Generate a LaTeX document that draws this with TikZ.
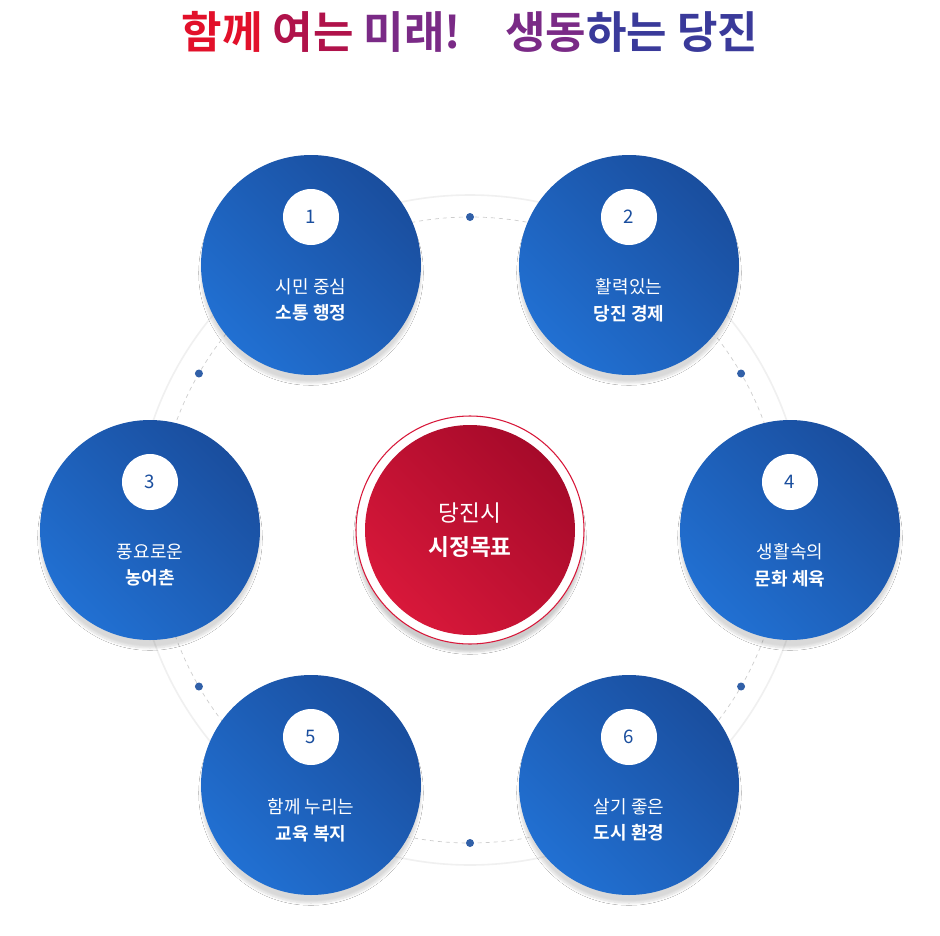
\documentclass[tikz,border=0pt]{standalone}
\usepackage{fontspec}
\newfontfamily\kr{Noto Sans CJK KR}
\newfontfamily\krb{Noto Sans CJK KR Bold}
\usetikzlibrary{shadows.blur}
\definecolor{bA}{HTML}{2170D2}
\definecolor{bB}{HTML}{1A4E9E}
\definecolor{rA}{HTML}{D8183A}
\definecolor{rB}{HTML}{A60A2A}
\definecolor{t1}{HTML}{E2102A}
\definecolor{t2}{HTML}{B0124A}
\definecolor{t3}{HTML}{7A2A86}
\definecolor{t4}{HTML}{3A3A9A}
\tikzset{
 goal/.style={circle,minimum size={220*0.75pt},inner sep=0pt,shading=axis,left color=bA,right color=bB,shading angle=135,blur shadow={shadow blur steps=8,shadow xshift=0pt,shadow yshift=-6pt,shadow opacity=15}},
 num/.style={circle,fill=white,minimum size={56*0.75pt},inner sep=0pt,text=bB,font=\kr\fontsize{14}{14}\selectfont},
 lbl/.style={text=white,align=center,font=\kr\fontsize{13.5}{20}\selectfont},
 dot/.style={circle,fill=bB!90,minimum size={8*0.75pt},inner sep=0pt}
}
\begin{document}
\begin{tikzpicture}[x=0.75pt,y=-0.75pt]
\useasboundingbox (0,0) rectangle (940,936);
\fill[white] (0,0) rectangle (940,936);
\node[font=\krb\fontsize{33}{33}\selectfont] (title) at (470,32)
 {\textcolor{t1}{함께} \textcolor{t2}{여는} \textcolor{t3}{미래!}\quad \textcolor{t3}{생동}\textcolor{t4}{하는} \textcolor{t4}{당진}};
\coordinate (c) at (470,530);
\draw[gray!12,line width=1.2pt] (c) circle (335);
\draw[gray!40,dashed,line width=0.5pt] (c) circle (313);
\foreach \a/\n in {-90/d1,-30/d2,30/d3,90/d4,150/d5,210/d6} \node[dot] (\n) at ($(c)+(\a:313)$) {};
\foreach \n/\x/\y/\k/\a/\b in {g1/311/265/1/시민 중심/소통 행정, g2/629/265/2/활력있는/당진 경제, g3/150/530/3/풍요로운/농어촌, g4/790/530/4/생활속의/문화 체육, g5/311/785/5/함께 누리는/교육 복지, g6/629/785/6/살기 좋은/도시 환경}{
 \node[goal] (\n) at (\x,\y) {};
 \node[num] (\n n) at (\x,\y-48) {\k};
 \node[lbl] (\n t) at (\x,\y+35) {\a\\{\krb \b}};
}
\node[circle,draw=rA,line width=0.8pt,minimum size={228*0.75pt},fill=white,blur shadow={shadow blur steps=8,shadow xshift=0pt,shadow yshift=-6pt,shadow opacity=20}] (ring) at (c) {};
\node[circle,minimum size={210*0.75pt},shading=axis,left color=rA,right color=rB,shading angle=135] (center) at (c) {};
\node[text=white,align=center,font=\kr\fontsize{17}{25}\selectfont] (ct) at (c) {당진시\\{\krb 시정목표}};
\end{tikzpicture}
\end{document}
